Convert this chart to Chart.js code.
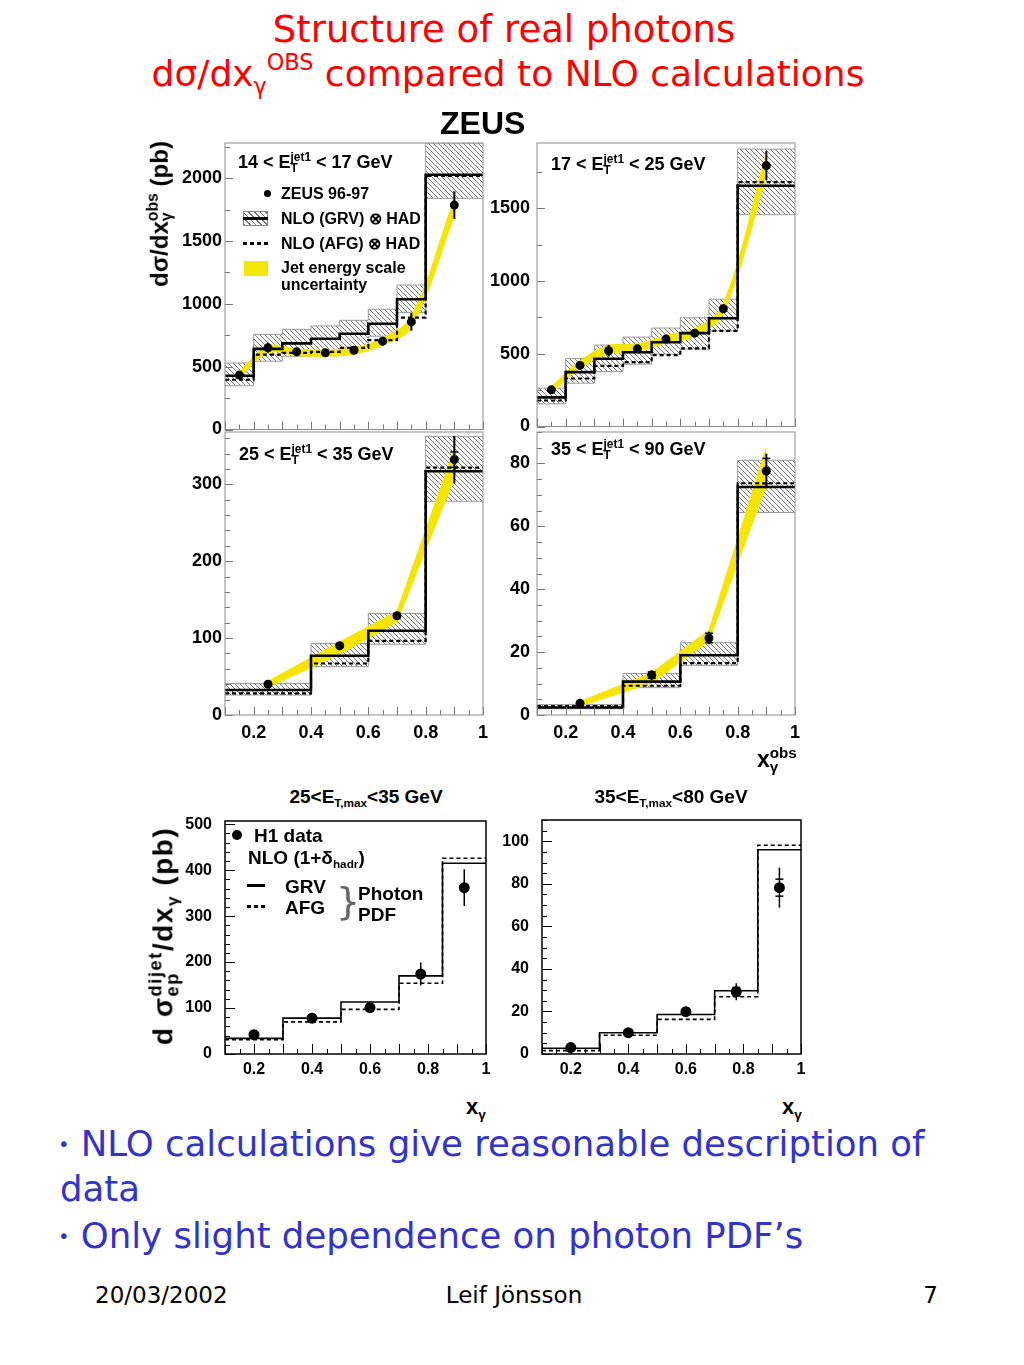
<!DOCTYPE html>
<html>
<head>
<meta charset="utf-8">
<title>Structure of real photons</title>
<script src="https://cdn.jsdelivr.net/npm/chart.js@4.4.1/dist/chart.umd.min.js"></script>
<style>
  body { margin:0; width:1024px; height:1365px; position:relative; background:#fff; overflow:hidden;
         font-family:"Liberation Sans", Arial, sans-serif; color:#000; }
  canvas { position:absolute; }
  .t { position:absolute; white-space:nowrap; line-height:1; }
  .ss { display:inline-block; vertical-align:-0.3em; font-size:0.66em; line-height:0.9; text-align:left; }
  .ss span { display:block; }
  sub { font-size:0.62em; line-height:0; vertical-align:-0.35em; }
  sup { font-size:0.62em; line-height:0; vertical-align:0.7em; }
  .ico { position:absolute; }
</style>
</head>
<body>
<script>
// ---- ZEUS 14 < Et < 17 GeV ----
var zEdgesA = [0.1, 0.2, 0.3, 0.4, 0.5, 0.6, 0.7, 0.8, 1.0];
var zXA = [0.15, 0.25, 0.35, 0.45, 0.55, 0.65, 0.75, 0.9];
var z1Grv = [428, 642, 685, 722, 762, 842, 1037, 2027];
var z1Afg = [396, 596, 610, 618, 650, 711, 890, 2019];
var z1Lo = [348, 543, 583, 610, 650, 743, 930, 1840];
var z1Hi = [529, 757, 797, 824, 869, 957, 1150, 2281];
var z1Data = [433, 650, 618, 610, 631, 703, 856, 1786];
var z1Err = [25, 40, 30, 25, 30, 35, 70, 110];
var z1BandLo = [405, 610, 588, 583, 600, 672, 810, 1700];
var z1BandHi = [460, 665, 640, 632, 652, 727, 900, 1840];

// ---- ZEUS 17 < Et < 25 GeV ----
var z2Grv = [200, 374, 466, 511, 580, 642, 745, 1656];
var z2Afg = [179, 330, 417, 443, 491, 537, 658, 1681];
var z2Lo = [156, 298, 378, 429, 498, 532, 658, 1457];
var z2Hi = [264, 468, 560, 615, 677, 748, 876, 1908];
var z2Data = [252, 420, 521, 534, 601, 642, 810, 1794];
var z2Err = [15, 25, 40, 20, 20, 25, 30, 100];
var z2BandLo = [235, 400, 500, 515, 575, 620, 780, 1720];
var z2BandHi = [272, 452, 557, 567, 627, 672, 842, 1885];

// ---- ZEUS 25 < Et < 35 GeV ----
var zEdgesB = [0.1, 0.4, 0.6, 0.8, 1.0];
var zXB = [0.25, 0.5, 0.7, 0.9];
var z3Grv = [32.5, 77, 109.5, 317];
var z3Afg = [28, 67, 96.5, 321.6];
var z3Lo = [26, 63, 92, 278];
var z3Hi = [41, 93, 132, 362];
var z3Data = [40, 90, 129, 332];
var z3Err = [5, 4, 4, 31];
var z3ErrIn = [2, 2, 2, 10];
var z3BandLo = [36, 79, 121, 308];
var z3BandHi = [44, 95, 135, 346];

// ---- ZEUS 35 < Et < 90 GeV ----
var z4Grv = [2.4, 10.6, 19, 72.5];
var z4Afg = [2.85, 9.3, 16.5, 73.7];
var z4Lo = [2, 8.7, 15.8, 64.4];
var z4Hi = [3.3, 13.2, 23, 81];
var z4Data = [3.7, 12.7, 24.5, 77.6];
var z4Err = [0.8, 1.5, 2, 5.5];
var z4ErrIn = [0.4, 1, 1.5, 4];
var z4BandLo = [2.8, 10.2, 23.5, 73];
var z4BandHi = [4.3, 13.4, 27, 85];

// ---- H1 25 < Et,max < 35 GeV ----
var hEdges = [0.1, 0.3, 0.5, 0.7, 0.85, 1.0];
var hX = [0.2, 0.4, 0.6, 0.775, 0.925];
var h1Grv = [34, 78, 113, 170, 415];
var h1Afg = [31, 70, 97, 154, 426];
var h1Data = [42, 78, 101, 174, 362];
var h1Err = [5, 7, 12, 25, 40];

// ---- H1 35 < Et,max < 80 GeV ----
var h2Grv = [2.7, 10, 18.6, 29.7, 96];
var h2Afg = [1.6, 8.8, 16.3, 26.9, 98.1];
var h2Data = [3, 10, 19.9, 29.3, 78.2];
var h2Err = [0.6, 1, 1.5, 4, 9.4];
var h2ErrIn = [0.3, 0.6, 1, 2, 4];

// tick labels
var xLabels = [0.2, 0.4, 0.6, 0.8, 1];
var z1YLabels = [0, 500, 1000, 1500, 2000];
var z2YLabels = [0, 500, 1000, 1500];
var z3YLabels = [0, 100, 200, 300];
var z4YLabels = [0, 20, 40, 60, 80];
var h1YLabels = [0, 100, 200, 300, 400, 500];
var h2YLabels = [0, 20, 40, 60, 80, 100];

var YELLOW = '#f6e500';

function steps(edges, vals) {
  var pts = vals.map(function(v, i) { return {x: edges[i], y: v}; });
  pts.push({x: edges[edges.length - 1], y: vals[vals.length - 1]});
  return pts;
}
function pts(xs, ys) {
  return xs.map(function(x, i) { return {x: x, y: ys[i]}; });
}
function near(v, arr) {
  return arr.some(function(a) { return Math.abs(a - v) < 1e-6; });
}
function isMult(v, s) {
  return Math.abs(v / s - Math.round(v / s)) < 1e-6;
}

function hatch() {
  var c = document.createElement('canvas');
  c.width = 5; c.height = 5;
  var g = c.getContext('2d');
  g.strokeStyle = '#6a6a6a';
  g.lineWidth = 0.9;
  g.beginPath();
  g.moveTo(-1, -1); g.lineTo(6, 6);
  g.moveTo(-1, 4); g.lineTo(1, 6);
  g.moveTo(4, -1); g.lineTo(6, 1);
  g.stroke();
  return g.createPattern(c, 'repeat');
}

// frame + inward ticks, ROOT style
var framePlugin = {
  id: 'frame',
  afterDatasetsDraw: function(chart, args, o) {
    var a = chart.chartArea, ctx = chart.ctx;
    var xs = chart.scales.x, ys = chart.scales.y;
    ctx.save();
    ctx.strokeStyle = o.tickColor;
    ctx.lineWidth = 1;
    xs.ticks.forEach(function(t) {
      var p = Math.round(xs.getPixelForValue(t.value)) + 0.5;
      var len = isMult(t.value, o.xMajor) ? o.majLen : o.minLen;
      ctx.beginPath(); ctx.moveTo(p, a.bottom); ctx.lineTo(p, a.bottom - len); ctx.stroke();
    });
    ys.ticks.forEach(function(t) {
      var p = Math.round(ys.getPixelForValue(t.value)) + 0.5;
      var len = near(t.value, o.yLabels) ? o.majLen : o.minLen;
      ctx.beginPath(); ctx.moveTo(a.left, p); ctx.lineTo(a.left + len, p); ctx.stroke();
    });
    ctx.strokeStyle = o.color;
    ctx.lineWidth = o.width;
    ctx.strokeRect(a.left, a.top, a.right - a.left, a.bottom - a.top);
    ctx.restore();
  }
};

var errorBars = {
  id: 'errorBars',
  afterDatasetsDraw: function(chart) {
    var ctx = chart.ctx, xs = chart.scales.x, ys = chart.scales.y;
    ctx.save();
    ctx.strokeStyle = '#000';
    chart.data.datasets.forEach(function(ds) {
      if (!ds.errs) return;
      ds.data.forEach(function(p, i) {
        var px = xs.getPixelForValue(p.x);
        ctx.lineWidth = ds.errWidth;
        ctx.beginPath();
        ctx.moveTo(px, ys.getPixelForValue(p.y - ds.errs[i]));
        ctx.lineTo(px, ys.getPixelForValue(p.y + ds.errs[i]));
        ctx.stroke();
        if (ds.errIn) {
          [p.y - ds.errIn[i], p.y + ds.errIn[i]].forEach(function(v) {
            var py = ys.getPixelForValue(v);
            ctx.lineWidth = 1.5;
            ctx.beginPath(); ctx.moveTo(px - 4, py); ctx.lineTo(px + 4, py); ctx.stroke();
          });
        }
      });
    });
    ctx.restore();
  }
};

function zeusSets(edges, xs, grv, afg, lo, hi, data, err, errIn, bLo, bHi, tension) {
  return [
    {data: steps(edges, lo), stepped: true, borderColor: '#9a9a9a', borderWidth: 1, pointRadius: 0, fill: false, order: 6},
    {data: steps(edges, hi), stepped: true, borderColor: '#9a9a9a', borderWidth: 1, pointRadius: 0, fill: 0, backgroundColor: hatch(), order: 6},
    {data: pts(xs, bLo), borderColor: YELLOW, borderWidth: 1, pointRadius: 0, fill: false, tension: tension, order: 5},
    {data: pts(xs, bHi), borderColor: YELLOW, borderWidth: 1, pointRadius: 0, fill: 2, backgroundColor: YELLOW, tension: tension, order: 5},
    {data: steps(edges, afg), stepped: true, borderColor: '#000', borderWidth: 2.2, borderDash: [4, 3], pointRadius: 0, fill: false, order: 4},
    {data: steps(edges, grv), stepped: true, borderColor: '#000', borderWidth: 2.6, pointRadius: 0, fill: false, order: 3},
    {data: pts(xs, data), showLine: false, pointRadius: 4.5, pointBackgroundColor: '#000', pointBorderWidth: 0,
     errs: err, errIn: errIn, errWidth: 2, order: 1}
  ];
}

function h1Sets(grv, afg, data, err, errIn) {
  return [
    {data: steps(hEdges, afg), stepped: true, borderColor: '#000', borderWidth: 1.6, borderDash: [4, 3], pointRadius: 0, fill: false, order: 4},
    {data: steps(hEdges, grv), stepped: true, borderColor: '#000', borderWidth: 1.6, pointRadius: 0, fill: false, order: 3},
    {data: pts(hX, data), showLine: false, pointRadius: 5.5, pointBackgroundColor: '#000', pointBorderWidth: 0,
     errs: err, errIn: errIn, errWidth: 1.5, order: 1}
  ];
}

function panel(p) {
  var padT = 8, padR = 14;
  var w = p.yW + p.w + padR, h = padT + p.h + p.xH;
  var cv = document.createElement('canvas');
  cv.width = w; cv.height = h;
  cv.style.left = (p.left - p.yW) + 'px';
  cv.style.top = (p.top - padT) + 'px';
  cv.style.width = w + 'px';
  cv.style.height = h + 'px';
  document.body.appendChild(cv);

  var font = {family: '"Liberation Sans", Arial, sans-serif', size: p.fs, weight: 'bold'};
  new Chart(cv.getContext('2d'), {
    type: 'line',
    data: {datasets: p.sets},
    options: {
      responsive: false,
      animation: false,
      layout: {padding: {top: padT, right: padR, left: 0, bottom: 0}},
      plugins: {
        legend: {display: false},
        tooltip: {enabled: false},
        frame: {color: p.frameColor, width: p.frameWidth, tickColor: p.tickColor,
                xMajor: 0.1, yLabels: p.yLabels, majLen: p.majLen, minLen: p.minLen}
      },
      scales: {
        x: {
          type: 'linear', min: 0.1, max: 1.0, bounds: 'data',
          grid: {display: false, drawTicks: false}, border: {display: false},
          afterBuildTicks: function(s) {
            var t = [];
            for (var v = 0.1; v <= 1.0001; v += 0.05) t.push({value: Math.round(v * 100) / 100});
            s.ticks = t;
          },
          afterFit: function(s) { s.height = p.xH; s.paddingLeft = 0; s.paddingRight = 0; },
          ticks: {
            display: p.xLabels, autoSkip: false, maxRotation: 0, padding: p.xPad, color: '#000', font: font,
            callback: function(v) { return near(v, xLabels) ? (v === 1 ? '1' : v.toFixed(1)) : ''; }
          }
        },
        y: {
          type: 'linear', min: 0, max: p.ymax, bounds: 'data',
          grid: {display: false, drawTicks: false}, border: {display: false},
          afterBuildTicks: function(s) {
            var t = [];
            for (var v = 0; v <= p.ymax + 1e-6; v += p.yMinor) t.push({value: Math.round(v * 1000) / 1000});
            s.ticks = t;
          },
          afterFit: function(s) { s.width = p.yW; s.paddingTop = 0; s.paddingBottom = 0; },
          ticks: {
            autoSkip: false, padding: p.yPad, color: '#000', font: font,
            callback: function(v) { return near(v, p.yLabels) ? String(v) : ''; }
          }
        }
      }
    },
    plugins: [framePlugin, errorBars]
  });
}

var zeusStyle = {frameColor: '#8c8c8c', frameWidth: 1, tickColor: '#777', majLen: 8, minLen: 5, fs: 18, xPad: 7};
var h1Style = {frameColor: '#000', frameWidth: 1.5, tickColor: '#000', majLen: 10, minLen: 5, fs: 16, yPad: 13, xPad: 6};

function merge(a, b) { var r = {}; for (var k in a) r[k] = a[k]; for (var k2 in b) r[k2] = b[k2]; return r; }

panel(merge(zeusStyle, {left: 225, top: 143, w: 258, h: 287, yW: 60, yPad: 3, xH: 4, xLabels: false, ymax: 2280, yMinor: 250, yLabels: z1YLabels,
  sets: zeusSets(zEdgesA, zXA, z1Grv, z1Afg, z1Lo, z1Hi, z1Data, z1Err, null, z1BandLo, z1BandHi, 0.35)}));
panel(merge(zeusStyle, {left: 537, top: 143, w: 258, h: 284, yW: 56, yPad: 7, xH: 4, xLabels: false, ymax: 1950, yMinor: 250, yLabels: z2YLabels,
  sets: zeusSets(zEdgesA, zXA, z2Grv, z2Afg, z2Lo, z2Hi, z2Data, z2Err, null, z2BandLo, z2BandHi, 0.35)}));
panel(merge(zeusStyle, {left: 225, top: 432, w: 258, h: 283, yW: 60, yPad: 3, xH: 32, xLabels: true, ymax: 368, yMinor: 20, yLabels: z3YLabels,
  sets: zeusSets(zEdgesB, zXB, z3Grv, z3Afg, z3Lo, z3Hi, z3Data, z3Err, z3ErrIn, z3BandLo, z3BandHi, 0)}));
panel(merge(zeusStyle, {left: 537, top: 432, w: 258, h: 283, yW: 56, yPad: 7, xH: 32, xLabels: true, ymax: 90, yMinor: 5, yLabels: z4YLabels,
  sets: zeusSets(zEdgesB, zXB, z4Grv, z4Afg, z4Lo, z4Hi, z4Data, z4Err, z4ErrIn, z4BandLo, z4BandHi, 0)}));
panel(merge(h1Style, {left: 225, top: 821, w: 261, h: 233, yW: 50, xH: 30, xLabels: true, ymax: 507, yMinor: 20, yLabels: h1YLabels,
  sets: h1Sets(h1Grv, h1Afg, h1Data, h1Err, null)}));
panel(merge(h1Style, {left: 542, top: 820, w: 259, h: 234, yW: 50, xH: 30, xLabels: true, ymax: 110, yMinor: 5, yLabels: h2YLabels,
  sets: h1Sets(h2Grv, h2Afg, h2Data, h2Err, h2ErrIn)}));

// ---- text ----
function txt(html, x, cy, style, align) {
  var d = document.createElement('div');
  d.className = 't';
  d.innerHTML = html;
  d.style.cssText += style;
  d.style.left = x + 'px';
  d.style.top = cy + 'px';
  var tx = align === 'c' ? '-50%' : align === 'r' ? '-100%' : '0';
  d.style.transform = 'translate(' + tx + ',-50%)';
  document.body.appendChild(d);
  return d;
}
function vtxt(html, cx, cy, style) {
  var d = txt(html, cx, cy, style, 'c');
  d.style.transform = 'translate(-50%,-50%) rotate(-90deg)';
  return d;
}
function box(x, y, w, h, style) {
  var d = document.createElement('div');
  d.className = 'ico';
  d.style.cssText = 'left:' + x + 'px;top:' + y + 'px;width:' + w + 'px;height:' + h + 'px;' + style;
  document.body.appendChild(d);
}

var slide = 'font-family:"DejaVu Sans",sans-serif;';
txt('Structure of real photons', 504, 29, slide + 'font-size:37px;color:#ff0000', 'c');
txt('d&sigma;/dx<sub>&gamma;</sub><sup>OBS</sup> compared to NLO calculations', 508, 74, slide + 'font-size:36px;color:#ff0000', 'c');
txt('ZEUS', 440, 123, 'font-weight:bold;font-size:32px');

var ET = 'E<span class="ss"><span>jet1</span><span>T</span></span>';
var lab = 'font-weight:bold;font-size:18px';
txt('14 &lt; ' + ET + ' &lt; 17 GeV', 238, 163, lab);
txt('17 &lt; ' + ET + ' &lt; 25 GeV', 551, 165, lab);
txt('25 &lt; ' + ET + ' &lt; 35 GeV', 239, 455, lab);
txt('35 &lt; ' + ET + ' &lt; 90 GeV', 551, 450, lab);

// ZEUS legend
var leg = 'font-weight:bold;font-size:16px';
box(264, 190, 7, 7, 'background:#000;border-radius:50%');
txt('ZEUS 96-97', 281, 194, leg);
box(243, 211, 25, 15, 'border:1px solid #888;box-sizing:border-box;background:repeating-linear-gradient(45deg,#777 0 1px,#fff 1px 4px)');
box(243, 217, 25, 3, 'background:#000');
txt('NLO (GRV) &otimes; HAD', 281, 219, leg);
box(243, 242, 25, 2.5, 'background:repeating-linear-gradient(90deg,#000 0 4px,transparent 4px 7px)');
txt('NLO (AFG) &otimes; HAD', 281, 244, leg);
box(244, 261, 24, 15, 'background:' + YELLOW);
txt('Jet energy scale', 281, 268, leg);
txt('uncertainty', 281, 285, leg);

vtxt('d&sigma;/dx<span class="ss"><span>obs</span><span>&gamma;</span></span> (pb)', 160, 214, 'font-weight:bold;font-size:24px');
txt('x<span class="ss"><span>obs</span><span>&gamma;</span></span>', 757, 760, 'font-weight:bold;font-size:23px');

// H1 part
var h1t = 'font-weight:bold;font-size:19px';
txt('25&lt;E<sub>T,max</sub>&lt;35 GeV', 366, 796, h1t, 'c');
txt('35&lt;E<sub>T,max</sub>&lt;80 GeV', 671, 796, h1t, 'c');
vtxt('d &sigma;<span class="ss"><span>dijet</span><span>ep</span></span>/dx<sub>&gamma;</sub> (pb)', 164, 936, 'font-weight:bold;font-size:28px;letter-spacing:1.5px');
txt('x<sub>&gamma;</sub>', 466, 1107, 'font-weight:bold;font-size:22px');
txt('x<sub>&gamma;</sub>', 782, 1107, 'font-weight:bold;font-size:22px');

var hl = 'font-weight:bold;font-size:19px';
box(232, 830, 10, 10, 'background:#000;border-radius:50%');
txt('H1 data', 254, 835, hl);
txt('NLO (1+&delta;<sub>hadr</sub>)', 248, 857, hl);
box(247, 884, 18, 2.5, 'background:#000');
txt('GRV', 285, 886, hl);
box(247, 905, 18, 2.5, 'background:repeating-linear-gradient(90deg,#000 0 4px,transparent 4px 7px)');
txt('AFG', 285, 907, hl);
txt('}', 336, 901, 'font-family:"DejaVu Sans";font-size:38px;color:#666;font-weight:normal');
txt('Photon', 358, 893, hl);
txt('PDF', 358, 914, hl);

// bullets and footer
var blue = slide + 'font-size:35.5px;color:#3333cc';
txt('<span style="font-size:0.55em;vertical-align:0.25em">&bull;</span> NLO calculations give reasonable description of', 58, 1144, blue);
txt('data', 60, 1189, blue);
txt('<span style="font-size:0.55em;vertical-align:0.25em">&bull;</span> Only slight dependence on photon PDF&rsquo;s', 58, 1236, blue);

var foot = slide + 'font-size:23px';
txt('20/03/2002', 95, 1295, foot);
txt('Leif J&ouml;nsson', 514, 1295, foot, 'c');
txt('7', 938, 1295, foot, 'r');
</script>
</body>
</html>
